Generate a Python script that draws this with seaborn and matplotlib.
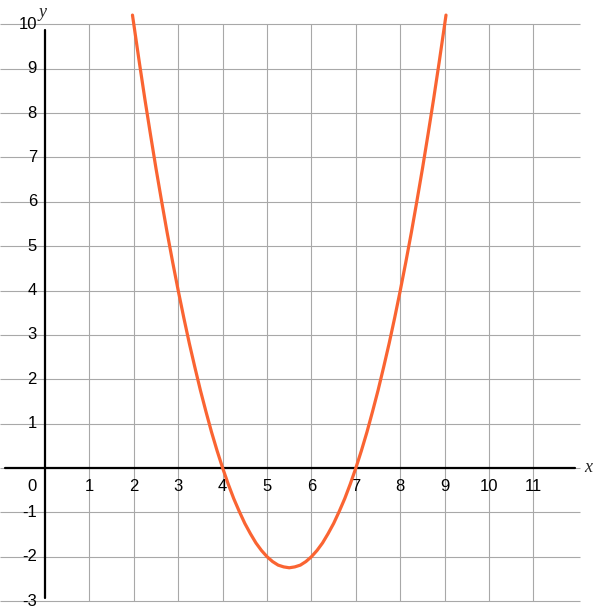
import matplotlib
matplotlib.use("Agg")
import matplotlib.pyplot as plt
import seaborn as sns
import pandas as pd

# points
x_vals = [1.97, 2.125, 2.25, 2.375, 2.5, 2.625, 2.75, 2.875, 3, 3.125, 3.25, 3.375, 3.5, 3.625,
          3.75, 3.875, 4, 4.125, 4.25, 4.375, 4.5, 4.625, 4.75, 4.875, 5, 5.125, 5.25, 5.375,
          5.5, 5.625, 5.75, 5.875, 6, 6.125, 6.25, 6.375, 6.5, 6.625, 6.75, 6.875, 7, 7.125,
          7.25, 7.375, 7.5, 7.625, 7.75, 7.875, 8, 8.125, 8.25, 8.375, 8.5, 8.625, 8.75,
          8.875, 9, 9.03]
y_vals = [10.21, 9.14, 8.31, 7.52, 6.75, 6.02, 5.31, 4.64, 4.0, 3.39, 2.81, 2.27, 1.75, 1.27,
          0.81, 0.39, 0.0, -0.36, -0.69, -0.98, -1.25, -1.48, -1.69, -1.86, -2.0, -2.11, -2.19, -2.23,
          -2.25, -2.23, -2.19, -2.11, -2.0, -1.86, -1.69, -1.48, -1.25, -0.98, -0.69, -0.36, 0.0, 0.39,
          0.81, 1.27, 1.75, 2.27, 2.81, 3.39, 4.0, 4.64, 5.31, 6.02, 6.75, 7.52, 8.31,
          9.14, 10.0, 10.21]

x_ticks = [1, 2, 3, 4, 5, 6, 7, 8, 9, 10, 11]
y_ticks = [-3, -2, -1, 1, 2, 3, 4, 5, 6, 7, 8, 9, 10]

sns.set_theme(style="white")
plt.rcParams["font.family"] = ["Liberation Sans", "DejaVu Sans"]

fig = plt.figure(figsize=(5.93, 6.16), dpi=100)
ax = fig.add_axes([0, 0, 1, 1])
ax.set_xlim(-1.013, 12.34)
ax.set_ylim(-3.337, 10.55)

grid_col = "#a8a8a8"
for yv in range(-3, 11):
    ax.hlines(yv, -1.013, 12.05, color=grid_col, lw=0.8, zorder=1)
for xv in x_ticks:
    ax.vlines(xv, -3, 10, color=grid_col, lw=0.8, zorder=1)

# axes
ax.plot([0, 0], [-2.93, 9.87], color="black", lw=1.6, zorder=3)
ax.plot([-0.9, 11.93], [0, 0], color="black", lw=1.6, zorder=3)

df = pd.DataFrame({"x": x_vals, "y": y_vals})
sns.lineplot(data=df, x="x", y="y", sort=False, color="#fa6432", lw=2.3, ax=ax, zorder=4)
ax.axis("off")

fs = 12
for yv in y_ticks:
    ax.text(-0.18, yv, str(yv), ha="right", va="center", fontsize=fs, color="black")
for xv in x_ticks:
    ax.text(xv, -0.42, str(xv), ha="center", va="center", fontsize=fs, color="black")
ax.text(-0.18, -0.42, "0", ha="right", va="center", fontsize=fs, color="black")

ax.text(-0.05, 10.27, "y", ha="center", va="center", fontsize=13,
        family="Liberation Serif", style="italic")
ax.text(12.23, 0.0, "x", ha="center", va="center", fontsize=13,
        family="Liberation Serif", style="italic")

fig.savefig("out.png", dpi=100)
